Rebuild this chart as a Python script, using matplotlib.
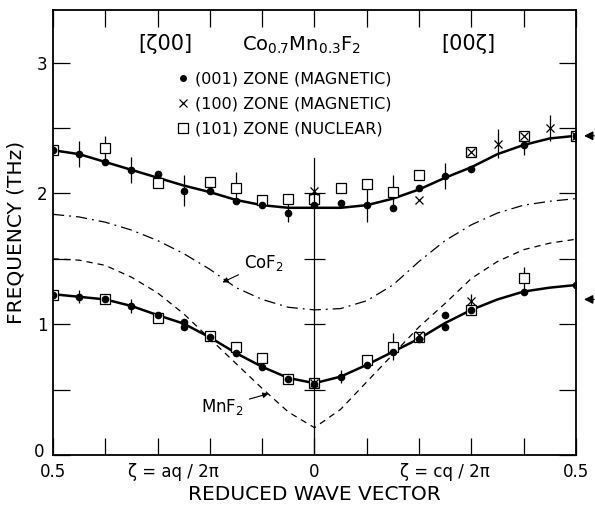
import matplotlib
matplotlib.use("Agg")
import matplotlib.pyplot as plt
from matplotlib.transforms import blended_transform_factory, ScaledTranslation

plt.rcParams["font.family"] = ["DejaVu Sans"]
plt.rcParams["mathtext.default"] = "regular"

# reduced wave vector: negative side = [zeta 0 0], positive side = [0 0 zeta]
zeta_curve = [-0.5, -0.45, -0.4, -0.35, -0.3, -0.25, -0.2, -0.15, -0.1, -0.05, 0.0,
              0.05, 0.1, 0.15, 0.2, 0.25, 0.3, 0.35, 0.4, 0.45, 0.5]
fit_upper = [2.33, 2.30, 2.24, 2.18, 2.12, 2.06, 2.01, 1.95, 1.91, 1.89, 1.89,
             1.89, 1.91, 1.96, 2.03, 2.12, 2.20, 2.30, 2.37, 2.42, 2.44]
fit_lower = [1.23, 1.21, 1.19, 1.14, 1.07, 1.005, 0.90, 0.78, 0.675, 0.59, 0.55,
             0.60, 0.69, 0.79, 0.89, 1.01, 1.11, 1.19, 1.25, 1.28, 1.30]
cof2 = [1.84, 1.82, 1.78, 1.72, 1.64, 1.54, 1.42, 1.28, 1.19, 1.13, 1.11,
        1.12, 1.18, 1.30, 1.48, 1.64, 1.76, 1.85, 1.91, 1.94, 1.96]
mnf2 = [1.50, 1.49, 1.45, 1.36, 1.24, 1.08, 0.89, 0.70, 0.51, 0.33, 0.21,
        0.35, 0.56, 0.77, 0.98, 1.16, 1.35, 1.48, 1.57, 1.62, 1.65]

# (001) zone, magnetic - filled circles
z001_x = [-0.5, -0.45, -0.4, -0.35, -0.3, -0.25, -0.2, -0.15, -0.1, -0.05, 0.0,
          0.05, 0.1, 0.15, 0.2, 0.25, 0.3, 0.4, 0.5,
          -0.5, -0.45, -0.4, -0.35, -0.3, -0.25, -0.25, -0.2, -0.15, -0.1, -0.05, 0.0,
          0.05, 0.1, 0.15, 0.2, 0.25, 0.25, 0.3, 0.4, 0.5]
z001_y = [2.33, 2.30, 2.24, 2.18, 2.15, 2.02, 2.02, 1.94, 1.91, 1.85, 1.91,
          1.93, 1.91, 1.89, 2.04, 2.13, 2.19, 2.37, 2.44,
          1.22, 1.21, 1.19, 1.14, 1.07, 1.02, 0.98, 0.90, 0.78, 0.67, 0.585, 0.54,
          0.60, 0.69, 0.79, 0.89, 1.07, 0.98, 1.11, 1.25, 1.30]
z001_err = [0, 0.10, 0, 0.10, 0, 0.12, 0, 0, 0, 0.07, 0,
            0, 0.13, 0, 0, 0.10, 0, 0.08, 0,
            0, 0.05, 0, 0.05, 0, 0, 0, 0, 0, 0, 0, 0,
            0.05, 0, 0, 0, 0, 0, 0, 0, 0]

# (100) zone, magnetic - crosses
z100_x = [0.0, 0.2, 0.3, 0.35, 0.4, 0.45, 0.5, 0.0, 0.2, 0.3]
z100_y = [2.02, 1.95, 2.32, 2.38, 2.44, 2.50, 2.44, 0.55, 0.92, 1.18]
z100_err = [0, 0, 0, 0.11, 0, 0.10, 0, 0, 0, 0.05]

# (101) zone, nuclear - open squares
z101_x = [-0.5, -0.4, -0.3, -0.2, -0.15, -0.1, -0.05, 0.0, 0.05, 0.1, 0.15, 0.2, 0.3, 0.4, 0.5,
          -0.5, -0.4, -0.3, -0.2, -0.15, -0.1, -0.05, 0.0, 0.1, 0.15, 0.2, 0.3, 0.4]
z101_y = [2.33, 2.35, 2.08, 2.09, 2.04, 1.95, 1.96, 1.96, 2.04, 2.07, 2.01, 2.14, 2.32, 2.44, 2.44,
          1.22, 1.19, 1.05, 0.91, 0.83, 0.74, 0.585, 0.55, 0.725, 0.83, 0.90, 1.11, 1.35]
z101_err = [0, 0.09, 0, 0, 0.12, 0, 0, 0, 0, 0, 0.13, 0, 0, 0, 0,
            0, 0, 0, 0, 0, 0, 0, 0, 0, 0.10, 0, 0, 0.09]

zone_arrows = [2.44, 1.19]
x_ticks = [-0.5, -0.4, -0.3, -0.2, -0.1, 0.0, 0.1, 0.2, 0.3, 0.4, 0.5]
x_labels = ["0.5", "", "", "", "", "0", "", "", "", "", "0.5"]
y_ticks = [0, 0.5, 1, 1.5, 2, 2.5, 3]
y_labels = ["0", "", "1", "", "2", "", "3"]
centre_ticks = [0.5, 1.0, 1.5, 2.0]

fig = plt.figure(figsize=(5.95, 5.08), dpi=100)
ax = fig.add_axes([0.089, 0.104, 0.879, 0.876])

ax.plot(zeta_curve, fit_upper, color="k", lw=1.8)
ax.plot(zeta_curve, fit_lower, color="k", lw=1.8)
ax.plot(zeta_curve, cof2, color="k", lw=0.9, ls=(0, (9, 4, 1.5, 4)))
ax.plot(zeta_curve, mnf2, color="k", lw=0.9, ls=(0, (5, 4)))

# error bars (no caps)
for xs, ys, es in ((z001_x, z001_y, z001_err), (z100_x, z100_y, z100_err),
                   (z101_x, z101_y, z101_err)):
    ax.errorbar(xs, ys, yerr=es, fmt="none", ecolor="k", elinewidth=0.9, capsize=0)

ax.plot(z101_x, z101_y, ls="none", marker="s", ms=7.5, mfc="white", mec="k", mew=0.9)
ax.plot(z100_x, z100_y, ls="none", marker="x", ms=6, mec="k", mew=0.9)
ax.plot(z001_x, z001_y, ls="none", marker="o", ms=4.5, color="k")

# legend built from dummy handles in the original order
h1, = ax.plot([], [], ls="none", marker="o", ms=4, color="k")
h2, = ax.plot([], [], ls="none", marker="x", ms=6, mec="k", mew=0.9)
h3, = ax.plot([], [], ls="none", marker="s", ms=7, mfc="white", mec="k", mew=0.9)
ax.legend([h1, h2, h3],
          ["(001) ZONE (MAGNETIC)", "(100) ZONE (MAGNETIC)", "(101) ZONE (NUCLEAR)"],
          loc="upper left", bbox_to_anchor=(0.225, 0.88), frameon=False,
          handlelength=0.6, handletextpad=0.45, labelspacing=0.62, fontsize=11.5,
          borderpad=0)

# centre line with its own ticks
ax.plot([0, 0], [0, 2.27], color="k", lw=0.9)
ax.hlines(centre_ticks, -0.02, 0.02, color="k", lw=0.9)

ax.text(-0.285, 3.14, "[ζ00]", ha="center", va="center", fontsize=15)
ax.text(0.295, 3.14, "[00ζ]", ha="center", va="center", fontsize=15)
ax.text(-0.025, 3.13, "Co$_{0.7}$Mn$_{0.3}$F$_2$", ha="center", va="center", fontsize=14)

ax.annotate("CoF$_2$", xy=(-0.176, 1.32), xytext=(-0.135, 1.47), fontsize=12,
            ha="left", va="center",
            arrowprops=dict(arrowstyle="-|>", color="k", lw=0.8, shrinkA=2, shrinkB=0,
                            mutation_scale=8))
ax.annotate("MnF$_2$", xy=(-0.088, 0.47), xytext=(-0.135, 0.37), fontsize=12,
            ha="right", va="center",
            arrowprops=dict(arrowstyle="-|>", color="k", lw=0.8, shrinkA=2, shrinkB=0,
                            mutation_scale=8))

# zone-boundary arrows outside the right frame
for yv in zone_arrows:
    ax.annotate("", xy=(1.01, yv), xycoords=("axes fraction", "data"),
                xytext=(1.04, yv), textcoords=("axes fraction", "data"),
                arrowprops=dict(arrowstyle="-|>", color="k", lw=1.0, mutation_scale=13),
                annotation_clip=False)

trans = blended_transform_factory(ax.transData, ax.transAxes)
ax.text(-0.27, -0.017, "ζ = aq / 2π", transform=trans, ha="center", va="top", fontsize=12)
ax.text(0.25, -0.017, "ζ = cq / 2π", transform=trans, ha="center", va="top", fontsize=12)

ax.set_xlim(-0.5, 0.5)
ax.set_ylim(0, 3.4)
ax.set_xticks(x_ticks)
ax.set_xticklabels(x_labels)
ax.set_yticks(y_ticks)
ax.set_yticklabels(y_labels)
ax.tick_params(direction="in", length=12, width=0.9, top=True, right=True,
               labelsize=12, pad=4)
ax.tick_params(axis="x", pad=5.5)
for s in ax.spines.values():
    s.set_linewidth(1.3)

# nudge the y "0" label up so it clears the x "0.5" label
zero_lab = ax.get_yticklabels()[0]
zero_lab.set_transform(zero_lab.get_transform()
                       + ScaledTranslation(-2 / 72, 4 / 72, fig.dpi_scale_trans))

ax.set_xlabel("REDUCED WAVE VECTOR", fontsize=14.5, labelpad=3)
ax.set_ylabel("FREQUENCY (THz)", fontsize=14.5, labelpad=6)

fig.savefig("out.png", dpi=100)
